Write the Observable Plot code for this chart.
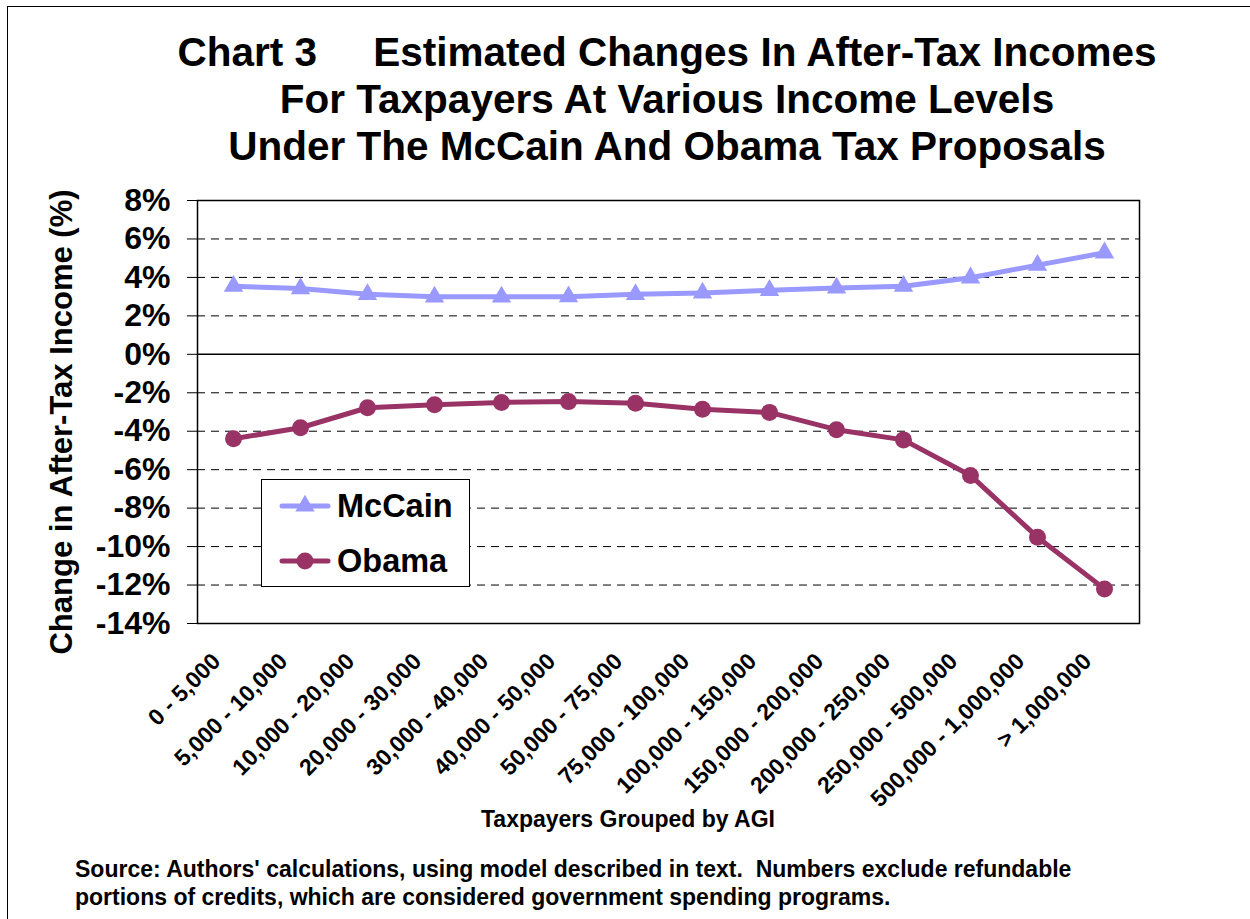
<!DOCTYPE html>
<html>
<head>
<meta charset="utf-8">
<script src="https://cdn.jsdelivr.net/npm/d3@7"></script>
<script src="https://cdn.jsdelivr.net/npm/@observablehq/plot@0.6"></script>
<style>
  html, body { margin: 0; padding: 0; background: #fff; }
  body { width: 1250px; height: 919px; position: relative; overflow: hidden;
         font-family: Arial, "Liberation Sans", sans-serif; font-weight: bold; color: #000; }
  #frame { position: absolute; left: 7px; top: 6px; width: 1400px; height: 1100px;
           border: 1.5px solid #000; box-sizing: border-box; }
  #title { position: absolute; left: 167px; width: 1000px; top: 29px; text-align: center;
           font-size: 40.5px; line-height: 47px; white-space: pre; }
  #chart { position: absolute; left: 0; top: 180px; }
  #xtitle { position: absolute; left: 378px; width: 500px; top: 806px; text-align: center;
            font-size: 23px; line-height: 26px; }
  #caption { position: absolute; left: 75px; top: 855px; font-size: 23px; line-height: 28px; white-space: pre; }
  #legend { position: absolute; left: 261px; top: 479px; width: 209px; height: 108px;
            border: 1px solid #000; background: #fff; box-sizing: border-box; }
</style>
</head>
<body>
<div id="frame"></div>
<div id="title"></div>
<div id="chart"></div>
<div id="legend"></div>
<div id="xtitle"></div>
<div id="caption"></div>
<script>
// ---- data ----
const titleLines = [
  "Chart 3     Estimated Changes In After-Tax Incomes",
  "For Taxpayers At Various Income Levels",
  "Under The McCain And Obama Tax Proposals"
];
const categories = [
  "0 - 5,000", "5,000 - 10,000", "10,000 - 20,000", "20,000 - 30,000",
  "30,000 - 40,000", "40,000 - 50,000", "50,000 - 75,000", "75,000 - 100,000",
  "100,000 - 150,000", "150,000 - 200,000", "200,000 - 250,000",
  "250,000 - 500,000", "500,000 - 1,000,000", "> 1,000,000"
];
const mccain = [3.54, 3.42, 3.12, 2.99, 2.99, 3.0, 3.12, 3.19, 3.33, 3.45, 3.54, 3.98, 4.64, 5.28];
const obama = [-4.39, -3.82, -2.78, -2.62, -2.50, -2.46, -2.54, -2.86, -3.02, -3.92, -4.45, -6.30, -9.51, -12.2];
const seriesNames = ["McCain", "Obama"];
const seriesColors = ["#9999FF", "#993366"];
const yTicks = [-14, -12, -10, -8, -6, -4, -2, 0, 2, 4, 6, 8];
const yLabel = "Change in After-Tax Income (%)";
const xLabel = "Taxpayers Grouped by AGI";
const captionLines = [
  "Source: Authors' calculations, using model described in text.  Numbers exclude refundable",
  "portions of credits, which are considered government spending programs."
];

// ---- build ----
document.getElementById("title").textContent = titleLines.join("\n");
document.getElementById("xtitle").textContent = xLabel;
document.getElementById("caption").textContent = captionLines.join("\n");

const mData = categories.map((c, i) => ({cat: c, value: mccain[i]}));
const oData = categories.map((c, i) => ({cat: c, value: obama[i]}));

const chart = Plot.plot({
  width: 1250,
  height: 660,
  marginTop: 20,
  marginBottom: 217,
  marginLeft: 197,
  marginRight: 111,
  style: {fontFamily: 'Arial, "Liberation Sans", sans-serif', color: "#000", background: "transparent", overflow: "visible"},
  x: {type: "point", domain: categories, padding: 0.5},
  y: {domain: [-14, 8]},
  marks: [
    Plot.gridY(yTicks.filter(d => d !== 0 && d !== 8 && d !== -14), {stroke: "#000", strokeOpacity: 1, strokeWidth: 1, strokeDasharray: "8,6"}),
    Plot.ruleY([0], {stroke: "#000", strokeWidth: 1.5}),
    Plot.frame({stroke: "#000", strokeWidth: 1.5}),
    Plot.axisY({ticks: yTicks, tickSize: 10, tickPadding: 17, tickFormat: d => d + "%",
                fontSize: 32, fontWeight: "bold", label: null, stroke: "#000"}),
    Plot.axisX({tickSize: 0, tickRotate: -45, tickPadding: 34, dx: -17, fontSize: 23, fontWeight: "bold", label: null}),
    Plot.text([yLabel], {frameAnchor: "left", rotate: -90, dx: -135, dy: 10, textAnchor: "middle",
                         fontSize: 31, fontWeight: "bold", fill: "#000"}),
    Plot.line(mData, {x: "cat", y: "value", stroke: seriesColors[0], strokeWidth: 5}),
    Plot.dot(mData, {x: "cat", y: "value", symbol: "triangle", r: 7.2, fill: seriesColors[0], stroke: "none"}),
    Plot.line(oData, {x: "cat", y: "value", stroke: seriesColors[1], strokeWidth: 5}),
    Plot.dot(oData, {x: "cat", y: "value", symbol: "circle", r: 8.5, fill: seriesColors[1], stroke: "none"})
  ]
});
document.getElementById("chart").appendChild(chart);

// ---- legend ----
const ns = "http://www.w3.org/2000/svg";
const lsvg = document.createElementNS(ns, "svg");
lsvg.setAttribute("width", 207); lsvg.setAttribute("height", 106);
const rowsY = [26, 81];
seriesNames.forEach((name, i) => {
  const g = document.createElementNS(ns, "g");
  const line = document.createElementNS(ns, "line");
  line.setAttribute("x1", 20); line.setAttribute("x2", 66);
  line.setAttribute("y1", rowsY[i]); line.setAttribute("y2", rowsY[i]);
  line.setAttribute("stroke", seriesColors[i]); line.setAttribute("stroke-width", 5);
  line.setAttribute("stroke-linecap", "round");
  g.appendChild(line);
  const sym = document.createElementNS(ns, "path");
  const size = i === 0 ? Math.PI * 7.2 * 7.2 : Math.PI * 8.5 * 8.5;
  sym.setAttribute("d", d3.symbol(i === 0 ? d3.symbolTriangle : d3.symbolCircle, size)());
  sym.setAttribute("transform", `translate(43,${rowsY[i]})`);
  sym.setAttribute("fill", seriesColors[i]);
  g.appendChild(sym);
  const t = document.createElementNS(ns, "text");
  t.setAttribute("x", 75); t.setAttribute("y", rowsY[i] + 11);
  t.setAttribute("font-size", 32.5); t.setAttribute("font-weight", "bold");
  t.setAttribute("font-family", 'Arial, "Liberation Sans", sans-serif');
  t.textContent = name;
  g.appendChild(t);
  lsvg.appendChild(g);
});
document.getElementById("legend").appendChild(lsvg);
</script>
</body>
</html>
